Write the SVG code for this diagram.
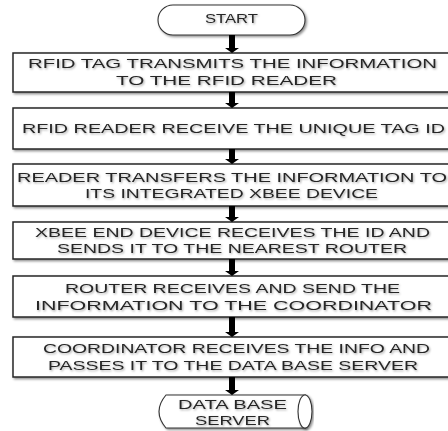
<svg xmlns="http://www.w3.org/2000/svg" width="448" height="431" viewBox="0 0 448 431">
  <defs>
    <filter id="sh" x="-5%" y="-20%" width="115%" height="160%">
      <feDropShadow dx="1.5" dy="1.5" stdDeviation="0.9" flood-color="#000" flood-opacity="0.45"/>
    </filter>
    <filter id="tsh" x="-5%" y="-30%" width="110%" height="170%">
      <feDropShadow dx="1" dy="1.2" stdDeviation="0.8" flood-color="#000" flood-opacity="0.35"/>
    </filter>
  </defs>
  <style>
    .box { fill: #fff; stroke: #262626; stroke-width: 1.5; filter: url(#sh); }
    .term { fill: #fff; stroke: #333; stroke-width: 1.1; filter: url(#sh); }
    .t { font-family: "Liberation Sans", Arial, sans-serif; font-size: 13px; fill: #262626; filter: url(#tsh); }
    .arr { fill: #000; }
  </style>
  <rect width="448" height="431" fill="#fff"/>

  <g id="start">
    <rect class="term" x="158" y="5" width="147" height="30" rx="15" ry="15"/>
    <text class="t" x="205" y="23" textLength="53" lengthAdjust="spacingAndGlyphs">START</text>
  </g>

  <g id="step1">
    <rect class="box" x="13" y="53" width="460" height="39"/>
    <text class="t" x="28" y="68" textLength="409" lengthAdjust="spacingAndGlyphs">RFID TAG TRANSMITS THE INFORMATION</text>
    <text class="t" x="116" y="85" textLength="221" lengthAdjust="spacingAndGlyphs">TO THE RFID READER</text>
  </g>

  <g id="step2">
    <rect class="box" x="13" y="108" width="460" height="41"/>
    <text class="t" x="22" y="133" textLength="423" lengthAdjust="spacingAndGlyphs">RFID READER RECEIVE THE UNIQUE TAG ID</text>
  </g>

  <g id="step3">
    <rect class="box" x="13" y="164" width="460" height="42"/>
    <text class="t" x="17" y="182" textLength="430" lengthAdjust="spacingAndGlyphs">READER TRANSFERS THE INFORMATION TO</text>
    <text class="t" x="85" y="198" textLength="293" lengthAdjust="spacingAndGlyphs">ITS INTEGRATED XBEE DEVICE</text>
  </g>

  <g id="step4">
    <rect class="box" x="13" y="222" width="460" height="37"/>
    <text class="t" x="35" y="237" textLength="395" lengthAdjust="spacingAndGlyphs">XBEE END DEVICE RECEIVES THE ID AND</text>
    <text class="t" x="57" y="253" textLength="350" lengthAdjust="spacingAndGlyphs">SENDS IT TO THE NEAREST ROUTER</text>
  </g>

  <g id="step5">
    <rect class="box" x="13" y="276" width="460" height="41"/>
    <text class="t" x="65" y="293" textLength="335" lengthAdjust="spacingAndGlyphs">ROUTER RECEIVES AND SEND THE</text>
    <text class="t" x="35" y="310" textLength="397" lengthAdjust="spacingAndGlyphs">INFORMATION TO THE COORDINATOR</text>
  </g>

  <g id="step6">
    <rect class="box" x="13" y="337" width="460" height="40"/>
    <text class="t" x="43" y="353" textLength="387" lengthAdjust="spacingAndGlyphs">COORDINATOR RECEIVES THE INFO AND</text>
    <text class="t" x="48" y="370" textLength="370" lengthAdjust="spacingAndGlyphs">PASSES IT TO THE DATA BASE SERVER</text>
  </g>

  <g id="database">
    <path class="term" d="M306,395 L166,395 Q152,411.5 166,428 L306,428"/>
    <ellipse class="term" cx="305" cy="411.5" rx="7" ry="16.5"/>
    <text class="t" x="178" y="409" textLength="109" lengthAdjust="spacingAndGlyphs">DATA BASE</text>
    <text class="t" x="195" y="425" textLength="75" lengthAdjust="spacingAndGlyphs">SERVER</text>
  </g>

  <g id="connectors">
    <path class="arr" d="M229,35 H235 V48 H239 L232,53 L225,48 H229 Z"/>
    <path class="arr" d="M229,92 H235 V103 H239 L232,108 L225,103 H229 Z"/>
    <path class="arr" d="M229,149 H235 V159 H239 L232,164 L225,159 H229 Z"/>
    <path class="arr" d="M229,206 H235 V217 H239 L232,222 L225,217 H229 Z"/>
    <path class="arr" d="M229,259 H235 V271 H239 L232,276 L225,271 H229 Z"/>
    <path class="arr" d="M229,317 H235 V332 H239 L232,337 L225,332 H229 Z"/>
    <path class="arr" d="M229,377 H235 V390 H239 L232,395 L225,390 H229 Z"/>
  </g>
</svg>
